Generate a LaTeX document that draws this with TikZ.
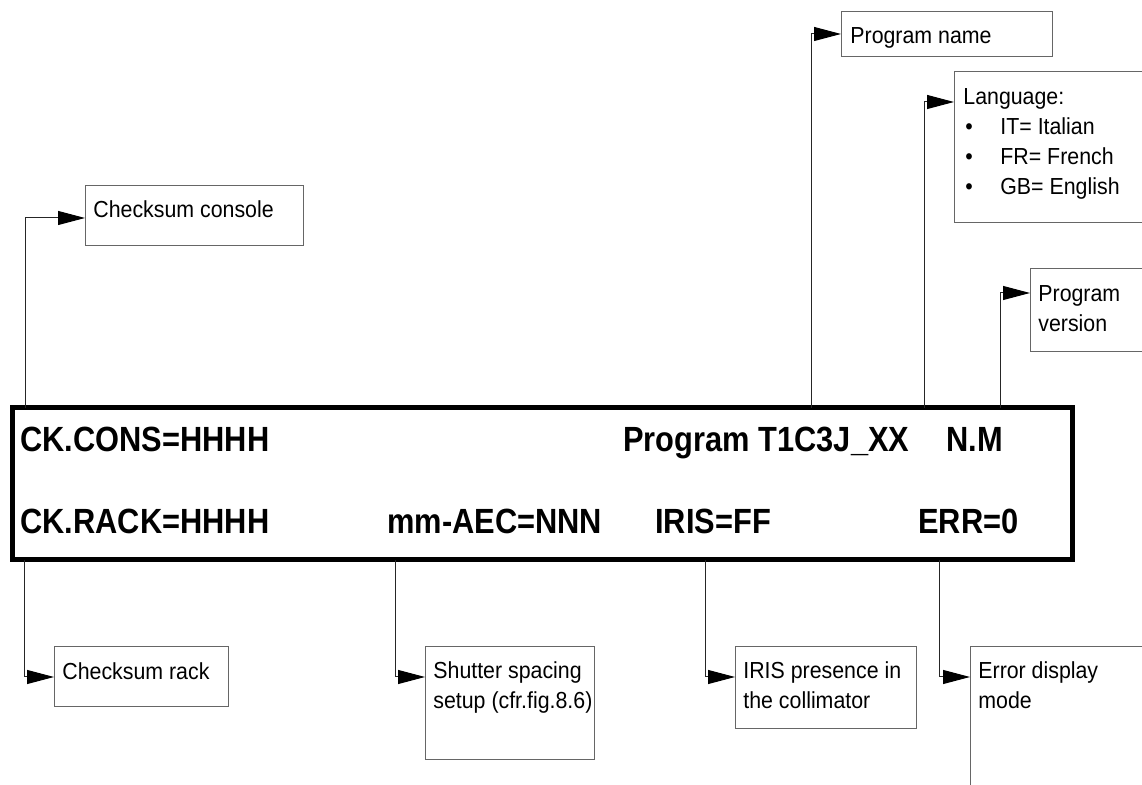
\documentclass[tikz,border=0pt]{standalone}
\usepackage{fontspec}
\setmainfont{Liberation Sans}[FakeStretch=0.92]
\newfontfamily\dispfont{Liberation Sans}[FakeStretch=0.88]
\usepackage{tikz}
\usetikzlibrary{arrows.meta, positioning}

\newcommand{\tagfont}{\fontsize{11.6}{15}\selectfont}
\newcommand{\bul}{\hspace*{1pt}\makebox[17.5pt][l]{\textbullet}}
\newcommand{\taglines}[1]{\begin{tabular}[t]{@{}l@{}}#1\end{tabular}}

\begin{document}
\begin{tikzpicture}[
          x=0.5pt, y=-0.5pt,
          dispbox/.style={rectangle, draw=black, line width=2.5pt, minimum width=530pt, minimum height=76pt, inner sep=0pt},
          disptext/.style={anchor=base west, inner sep=0pt, font=\dispfont\fontsize{17.5}{20}\selectfont\bfseries},
          tagbox/.style={rectangle, draw=black!60, line width=0.5pt, anchor=north west, inner sep=0pt, outer sep=0pt},
          tagtext/.style={anchor=base west, inner sep=0pt, font=\tagfont},
          lead/.style={draw=black!85, line width=0.5pt, -{Triangle[length=13.5pt, width=7pt, color=black]}}
        ]
          \useasboundingbox (0,0) rectangle (1142,785);
          \clip (0,0) rectangle (1142,785);

          % Display panel
          \node[dispbox] (disp) at (542,484) {};
          \node[disptext] (ckcons) at (20,452) {CK.CONS=HHHH};
          \node[disptext] (prog) at (623,452) {Program T1C3J\_XX};
          \node[disptext] (nm) at (946,452) {N.M};
          \node[disptext] (ckrack) at (20,534) {CK.RACK=HHHH};
          \node[disptext] (aec) at (387,534) {mm-AEC=NNN};
          \node[disptext] (iris) at (655,534) {IRIS=FF};
          \node[disptext] (err) at (918,534) {ERR=0};

          % Taps on the panel border
          \coordinate (kcons) at (25,408);
          \coordinate (kname) at (811,408);
          \coordinate (klang) at (924,408);
          \coordinate (kver) at (1000,408);
          \coordinate (krack) at (24,560);
          \coordinate (kaec) at (395,560);
          \coordinate (kiris) at (705,560);
          \coordinate (kerr) at (939,560);

          % Upper boxes
          \node[tagbox, minimum width=109pt, minimum height=30pt] (cons) at (85,186) {};
          \node[tagtext] at (cons.north west) [xshift=4pt, yshift=-16pt] {Checksum console};
          \node[tagbox, minimum width=105.5pt, minimum height=22.5pt] (pname) at (841,12) {};
          \node[tagtext] at (pname.north west) [xshift=4.5pt, yshift=-16pt] {Program name};
          \node[tagbox, minimum width=100pt, minimum height=75.5pt] (lang) at (954,72) {};
          \node[tagtext] at (lang.north west) [xshift=4.5pt, yshift=-16.5pt]
            {\taglines{Language:\\ \bul IT= Italian\\ \bul FR= French\\ \bul GB= English}};
          \node[tagbox, minimum width=60pt, minimum height=41.5pt] (ver) at (1030,269) {};
          \node[tagtext] at (ver.north west) [xshift=4pt, yshift=-16.5pt] {\taglines{Program\\ version}};

          % Lower boxes
          \node[tagbox, minimum width=87pt, minimum height=30pt] (rack) at (54,647) {};
          \node[tagtext] at (rack.north west) [xshift=4pt, yshift=-16.5pt] {Checksum rack};
          \node[tagbox, minimum width=84.5pt, minimum height=56.5pt] (shut) at (425,647) {};
          \node[tagtext] at (shut.north west) [xshift=4pt, yshift=-16pt] {\taglines{Shutter spacing\\ setup (cfr.fig.8.6)}};
          \node[tagbox, minimum width=90.5pt, minimum height=41pt] (irisbox) at (735,647) {};
          \node[tagtext] at (irisbox.north west) [xshift=4pt, yshift=-16pt] {\taglines{IRIS presence in\\ the collimator}};
          \node[tagbox, minimum width=95pt, minimum height=80pt] (errbox) at (970,647) {};
          \node[tagtext] at (errbox.north west) [xshift=4pt, yshift=-16pt] {\taglines{Error display\\ mode}};

          % Leads
          \draw[lead] (kcons) |- ([yshift=-16pt]cons.north west);
          \draw[lead] (kname) |- ([yshift=-11pt]pname.north west);
          \draw[lead] (klang) |- ([yshift=-15pt]lang.north west);
          \draw[lead] (kver) |- ([yshift=-12pt]ver.north west);
          \draw[lead] (krack) |- ([yshift=-15pt]rack.north west);
          \draw[lead] (kaec) |- ([yshift=-15pt]shut.north west);
          \draw[lead] (kiris) |- ([yshift=-15pt]irisbox.north west);
          \draw[lead] (kerr) |- ([yshift=-15pt]errbox.north west);
        \end{tikzpicture}
\end{document}
